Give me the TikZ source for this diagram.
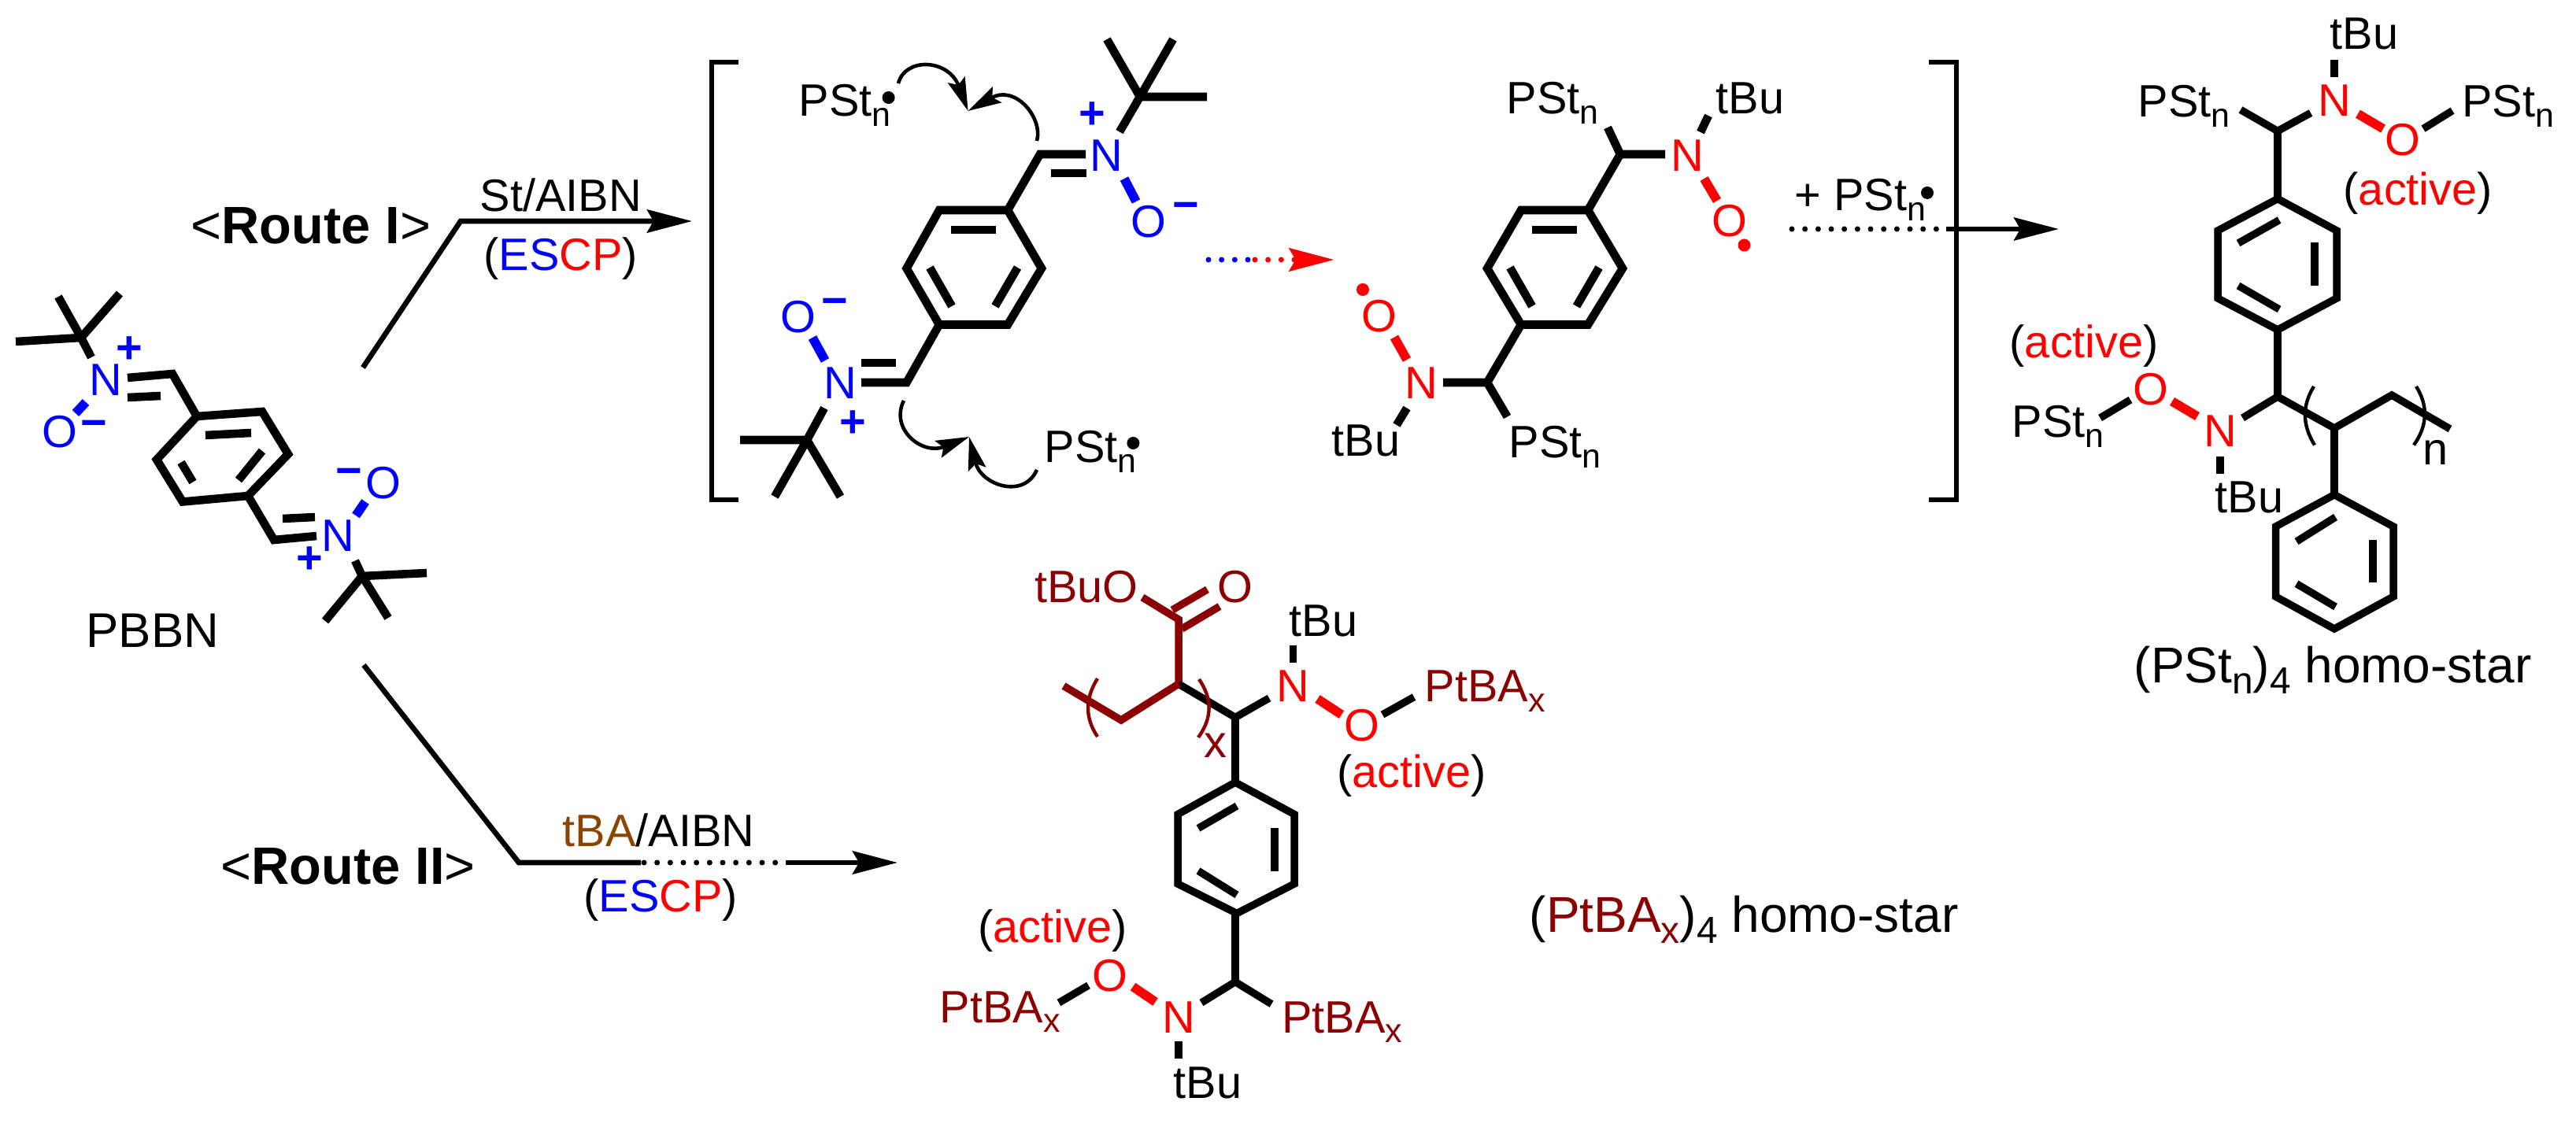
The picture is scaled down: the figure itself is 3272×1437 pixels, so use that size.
\documentclass[tikz,border=0pt]{standalone}
\usepackage{fontspec}
\setmainfont{Liberation Sans}
\usetikzlibrary{arrows.meta}
\definecolor{darkred}{HTML}{8B0000}
\definecolor{tbabrown}{HTML}{8B4500}
\newcommand{\chemtext}{\fontsize{16.4}{19}\selectfont}
\newcommand{\routetext}{\fontsize{19}{22}\selectfont}
\newcommand{\startext}{\fontsize{18.2}{21}\selectfont}
\newcommand{\sbs}[1]{\raisebox{-0.22em}{\fontsize{12.2}{14}\selectfont #1}}
\newcommand{\sbl}[1]{\raisebox{-0.22em}{\fontsize{13.6}{16}\selectfont #1}}
\newcommand{\escp}{(\textcolor{blue}{ES}\textcolor{red}{CP})}
\tikzset{
  lab/.style={font=\chemtext,inner sep=0pt,anchor=base west},
  atom/.style={font=\chemtext,inner sep=0pt},
  charge/.style={font=\chemtext\bfseries,inner sep=0pt,text=blue},
  raddot/.style={circle,fill,inner sep=0pt,minimum size=0.16cm},
  bond/.style={line width=3pt,line join=miter},
  thinbond/.style={line width=2.7pt,line join=miter},
  nobond/.style={line width=3.3pt},
  paren/.style={line width=1.25pt},
  bracketline/.style={line width=1.9pt,line join=miter},
  routeline/.style={line width=1.9pt,line join=miter},
  routehead/.style={-{Stealth[length=16.2pt,width=8.3pt,inset=2.3pt]}},
  curvehead/.style={line width=1.3pt,-{Stealth[length=12pt,width=6.5pt,inset=2pt]}},
  dotline/.style={line width=2pt,line cap=round,dash pattern=on 0pt off 4.74pt}
}
\begin{document}
\begin{tikzpicture}[x=0.01cm,y=-0.01cm]
\useasboundingbox (0,0) rectangle (3272,1437);

\draw[bond] (250,529) -- (333,523) -- (366,577) -- (315,630) -- (232,637.5) -- (199,584) -- cycle;
\draw[bond] (261,553) -- (319,550);
\draw[bond] (333,573) -- (303,610);
\draw[bond] (230,587.5) -- (245,612.5);
\draw[bond] (162,480) -- (219,475) -- (250,529);
\draw[bond] (162,505) -- (204,503);
\draw[bond] (315,630) -- (348,686) -- (402,681);
\draw[bond] (359,659) -- (400,657);
\draw[bond] (74,377) -- (103,429) -- (116,454);
\draw[bond] (152,373) -- (103,429) -- (20,434);
\draw[bond] (451,712.5) -- (460,732) -- (493,785);
\draw[bond] (542,728) -- (460,732) -- (413,789);
\draw[nobond,blue] (109,511) -- (96,525);
\draw[nobond,blue] (464,637.5) -- (452,655);
\node[atom,text=blue] (nA) at (134,483) {N};
\node[atom,text=blue] (oA) at (76,549) {O};
\node[charge] (plusA) at (164,445) {+};
\node[charge] (minusA) at (119,545) {−};
\node[atom,text=blue] (nB) at (429,681) {N};
\node[atom,text=blue] (oB) at (487,614) {O};
\node[charge] (plusB) at (393,712) {+};
\node[charge] (minusB) at (443,606) {−};
\node[lab,font=\fontsize{17.6}{20}\selectfont] (pbbn) at (109,823) {PBBN};

\coordinate (routeAstart) at (461,467);
\coordinate (routeAcorner) at (585,281);
\coordinate (routeAend) at (879,281);
\draw[routeline,routehead] (routeAstart) -- (routeAcorner) -- (routeAend);
\node[lab,font=\routetext] (routeA) at (242,310) {<\textbf{Route I}>};
\node[lab] (reagentA) at (609,269) {St/AIBN};
\node[lab] (escpA) at (614,344) {\escp};

\coordinate (routeBstart) at (462,845);
\coordinate (routeBcorner) at (659,1096);
\coordinate (routeBdotA) at (814,1096);
\coordinate (routeBdotB) at (998,1096);
\coordinate (routeBend) at (1140,1096);
\draw[routeline] (routeBstart) -- (routeBcorner) -- (routeBdotA);
\draw[dotline] (818,1096) -- (986,1096);
\draw[routeline,routehead] (routeBdotB) -- (routeBend);
\node[lab,font=\routetext] (routeB) at (280,1123) {<\textbf{Route II}>};
\node[lab] (reagentB) at (714,1075) {\textcolor{tbabrown}{tBA}/AIBN};
\node[lab] (escpB) at (741,1158) {\escp};

\draw[bracketline] (938,79) -- (904,79) -- (904,635) -- (938,635);
\draw[bracketline] (2450,79) -- (2485,79) -- (2485,635) -- (2450,635);

\draw[bond] (1280,267) -- (1193,267) -- (1151.5,341) -- (1193,412.5) -- (1280,412.5) -- (1323,341) -- cycle;
\draw[bond] (1208,292) -- (1265,292);
\draw[bond] (1181,340) -- (1209,389);
\draw[bond] (1292.5,340) -- (1264,389);
\draw[bond] (1379,196) -- (1321,196) -- (1280,267);
\draw[bond] (1335,220) -- (1380,220);
\draw[bond] (1193,412.5) -- (1151.5,486) -- (1094,486);
\draw[bond] (1094,461) -- (1138,461);
\draw[bond] (1406,50) -- (1448,123) -- (1422,167.5);
\draw[bond] (1490,50) -- (1448,123) -- (1533,123);
\draw[bond] (1047,518.5) -- (1025,559) -- (984,631);
\draw[bond] (940,559) -- (1025,559) -- (1067.5,631);
\draw[nobond,blue] (1428,227) -- (1443,256);
\draw[nobond,blue] (1032,429) -- (1048,458);
\node[atom,text=blue] (nC) at (1405,198) {N};
\node[atom,text=blue] (oC) at (1459,282) {O};
\node[charge] (plusC) at (1387.5,147) {+};
\node[charge] (minusC) at (1506,268.5) {−};
\node[atom,text=blue] (nD) at (1067.5,487) {N};
\node[atom,text=blue] (oD) at (1014,403) {O};
\node[charge] (plusD) at (1083,539) {+};
\node[charge] (minusD) at (1060,390) {−};
\node[lab] (pstA) at (1014,148) {PSt\sbs{n}};
\node[raddot] (dotA) at (1128.6,124) {};
\node[lab] (pstB) at (1326,588) {PSt\sbs{n}};
\node[raddot] (dotB) at (1439.4,563) {};
\coordinate (tipA) at (1229.6,141);
\coordinate (tipB) at (1231,555);
\draw[curvehead] (1141,106) .. controls (1150,72) and (1205,75) .. (tipA);
\draw[curvehead] (1317,179) .. controls (1325,150) and (1290,107) .. (tipA);
\draw[curvehead] (1148,509) .. controls (1130,545) and (1171,579) .. (tipB);
\draw[curvehead] (1317,597) .. controls (1300,635) and (1246,616) .. (tipB);

\draw[dotline,blue] (1535,330) -- (1586,330);
\draw[dotline,red,-{Stealth[length=16.2pt,width=8.3pt,inset=2.3pt]}] (1594,330) -- (1694.5,330);

\draw[bond] (2017,267) -- (1932,267) -- (1889,341) -- (1932,412.5) -- (2017,412.5) -- (2061,341) -- cycle;
\draw[bond] (1946,292) -- (2003,292);
\draw[bond] (1918,340) -- (1946,389);
\draw[bond] (2031,340) -- (2002.5,389);
\draw[bond] (2017,267) -- (2058,196) -- (2115,196);
\draw[bond] (2058,196) -- (2042,162);
\draw[bond] (2160,168) -- (2170,147);
\draw[bond] (1932,412.5) -- (1889,486) -- (1833,486);
\draw[bond] (1889,486) -- (1914.5,529.5);
\draw[bond] (1787,518.5) -- (1774,540);
\draw[nobond,red] (2164.5,227) -- (2181,255);
\draw[nobond,red] (1787,457) -- (1771,428.5);
\node[atom,text=red] (nE) at (2143,198) {N};
\node[atom,text=red] (oE) at (2197,281) {O};
\node[raddot,red] (dotE) at (2215.5,311.5) {};
\node[atom,text=red] (nF) at (1805,487) {N};
\node[atom,text=red] (oF) at (1752,402) {O};
\node[raddot,red] (dotF) at (1731,368) {};
\node[lab] (pstE) at (1913,145) {PSt\sbs{n}};
\node[lab] (tbuE) at (2179,145) {tBu};
\node[lab] (tbuF) at (1691,580) {tBu};
\node[lab] (pstF) at (1916,582) {PSt\sbs{n}};

\node[lab] (plusPst) at (2279,268) {+ PSt\sbs{n}};
\node[raddot] (dotPlus) at (2448,245) {};
\coordinate (passA) at (2472,291);
\coordinate (passB) at (2615,291);
\draw[dotline] (2276,291) -- (2463,291);
\draw[line width=1.5pt,routehead] (passA) -- (passB);

\draw[thinbond] (2846,139.5) -- (2893,166.5) -- (2935,143.5);
\draw[thinbond] (2893,166.5) -- (2893,252.6);
\draw[thinbond] (2893,252.6) -- (2968,293) -- (2968,379) -- (2893,419) -- (2817,379) -- (2817,293) -- cycle;
\draw[thinbond] (2843,309) -- (2895,279.6);
\draw[thinbond] (2940,308) -- (2940,363);
\draw[thinbond] (2843,363) -- (2895,393);
\draw[thinbond] (2893,419) -- (2893,504);
\draw[thinbond] (2848.5,531) -- (2893,504) -- (2965,544) -- (3038,502) -- (3112,545);
\draw[thinbond] (2965,544) -- (2965,628.6);
\draw[thinbond] (2965,628.6) -- (3040,669) -- (3040,758) -- (2965,799) -- (2890.5,758) -- (2890.5,669) -- cycle;
\draw[thinbond] (2917,688) -- (2966.5,657);
\draw[thinbond] (3014,686) -- (3014,740.5);
\draw[thinbond] (2917,741.7) -- (2966.5,771);
\draw[thinbond] (2965,97.6) -- (2965,75.8);
\draw[thinbond] (2820,580) -- (2820,601.6);
\draw[thinbond] (3078,163.6) -- (3115,140.6);
\draw[thinbond] (2706,508) -- (2667.6,531);
\draw[nobond,red] (2995,144.7) -- (3027,163.6);
\draw[nobond,red] (2791,529) -- (2759,510);
\draw[paren] (2939,491) .. controls (2924,515) and (2924,540) .. (2940,565.5);
\draw[paren] (3069,491) .. controls (3084,515) and (3084,540) .. (3066,565.5);
\node[atom,text=red] (nG) at (2965,127.5) {N};
\node[atom,text=red] (oG) at (3051.5,178) {O};
\node[atom,text=red] (nH) at (2820,548) {N};
\node[atom,text=red] (oH) at (2732,495) {O};
\node[lab] (tbuG) at (2959,63) {tBu};
\node[lab] (pstG) at (2715,149) {PSt\sbs{n}};
\node[lab] (pstGb) at (3126.5,149) {PSt\sbs{n}};
\node[lab] (activeG) at (2976,261) {(\textcolor{red}{active})};
\node[lab] (activeH) at (2552,455) {(\textcolor{red}{active})};
\node[lab] (pstH) at (2555,556) {PSt\sbs{n}};
\node[lab] (tbuH) at (2813,651.5) {tBu};
\node[lab] (repN) at (3077,591) {n};
\node[lab,font=\startext] (starA) at (2710,867) {(PSt\sbl{n})\sbl{4} homo-star};

\draw[thinbond,darkred] (1451,759) -- (1497,787) -- (1497,869);
\draw[thinbond,darkred] (1489,775) -- (1533.5,749);
\draw[thinbond,darkred] (1501,799) -- (1549,770.5);
\draw[thinbond] (1497,869) -- (1569,911.5) -- (1612,887);
\draw[thinbond,darkred] (1351,871.5) -- (1424,915) -- (1497,869);
\draw[thinbond] (1569,911.5) -- (1569,994);
\draw[thinbond] (1569,994) -- (1644,1034.6) -- (1644,1123) -- (1571,1160.5) -- (1496,1123) -- (1496,1034.6) -- cycle;
\draw[thinbond] (1522,1052.4) -- (1571,1024);
\draw[thinbond] (1619,1052.4) -- (1619,1106.5);
\draw[thinbond] (1522,1106.5) -- (1571,1137);
\draw[thinbond] (1569,1160.5) -- (1569,1247.5);
\draw[thinbond] (1526,1274) -- (1569,1247.5) -- (1615,1275.7);
\draw[thinbond] (1642.5,820) -- (1642.5,842);
\draw[thinbond] (1497,1322.7) -- (1497,1345);
\draw[thinbond] (1756,908) -- (1796,885.6);
\draw[thinbond] (1382.5,1252) -- (1345,1274);
\draw[nobond,red] (1673.5,888) -- (1704,908);
\draw[nobond,red] (1467.5,1273) -- (1439,1253.6);
\draw[paren,darkred] (1394,862) .. controls (1378,888) and (1378,912) .. (1394,936);
\draw[paren,darkred] (1523,863) .. controls (1540,888) and (1540,912) .. (1522,937);
\node[lab,text=darkred] (tbuoI) at (1313.6,766) {tBuO};
\node[atom,text=darkred] (oIb) at (1569,746) {O};
\node[atom,text=red] (nI) at (1642.5,871.5) {N};
\node[atom,text=red] (oI) at (1730,922) {O};
\node[atom,text=red] (nJ) at (1497,1293) {N};
\node[atom,text=red] (oJ) at (1410,1239.5) {O};
\node[lab] (tbuI) at (1637,808) {tBu};
\node[lab] (tbuJ) at (1490,1395.5) {tBu};
\node[lab,text=darkred] (ptbaI) at (1809,892) {PtBA\sbs{x}};
\node[lab,text=darkred] (ptbaJ) at (1193,1299) {PtBA\sbs{x}};
\node[lab,text=darkred] (ptbaK) at (1627.6,1312) {PtBA\sbs{x}};
\node[lab,text=darkred] (repX) at (1529,962) {x};
\node[lab] (activeI) at (1698,1001) {(\textcolor{red}{active})};
\node[lab] (activeJ) at (1242,1197) {(\textcolor{red}{active})};
\node[lab,font=\startext] (starB) at (1942,1184) {(\textcolor{darkred}{PtBA\sbl{x}})\sbl{4} homo-star};
\end{tikzpicture}
\end{document}
